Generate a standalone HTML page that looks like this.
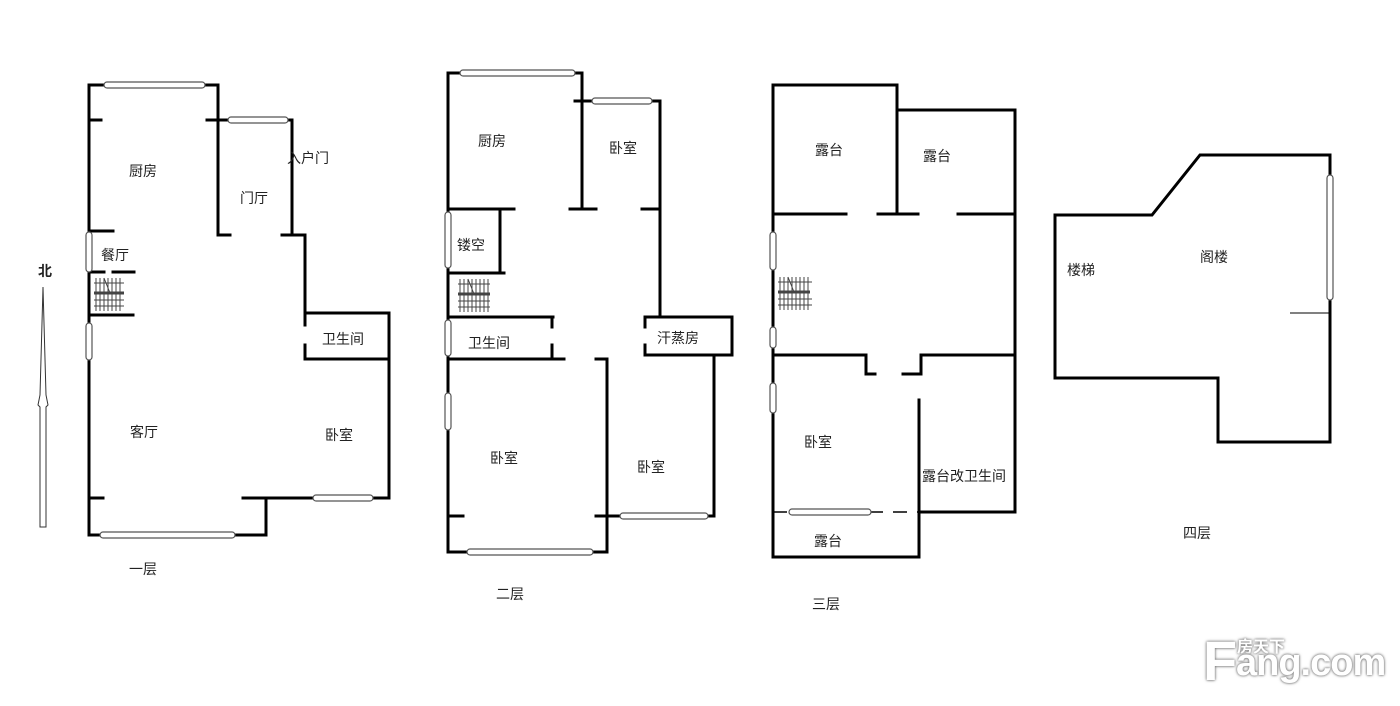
<!DOCTYPE html>
<html><head><meta charset="utf-8"><style>
body{margin:0;background:#fff;}
#w{position:relative;width:1400px;height:706px;overflow:hidden;background:#fff;}
svg text{font-family:"Liberation Sans","Noto Sans CJK SC",sans-serif;font-size:14px;fill:#222;}
.wm{position:absolute;font-family:"Liberation Sans","Noto Sans CJK SC",sans-serif;color:#fff;font-weight:bold;text-shadow:0 0 3px #777,0 0 2px #888;}
</style></head><body><div id="w">
<svg width="1400" height="706" viewBox="0 0 1400 706">
<g stroke="#000" stroke-width="3" fill="none" stroke-linecap="square">
<polyline points="218,235 218,85 89,85 89,535 266,535 266,498 243,498"/>
<line x1="218" y1="235" x2="230" y2="235"/>
<polyline points="207,120 292,120 292,235 282,235"/>
<polyline points="292,235 305,235 305,313 389,313 389,498 266,498"/>
<line x1="305" y1="359" x2="389" y2="359"/>
<line x1="305" y1="313" x2="305" y2="325"/><line x1="305" y1="345" x2="305" y2="359"/>
<line x1="89" y1="120" x2="101" y2="120"/><line x1="89" y1="231" x2="113" y2="231"/>
<line x1="89" y1="272" x2="104" y2="272"/><line x1="113" y1="272" x2="134" y2="272"/>
<line x1="89" y1="315" x2="133" y2="315"/><line x1="89" y1="498" x2="103" y2="498"/>
<polyline points="582,209 582,73 448,73 448,552 607,552 607,359 596,359"/>
<line x1="570" y1="209" x2="596" y2="209"/>
<polyline points="575,101 660,101 660,317"/>
<line x1="642" y1="209" x2="660" y2="209"/>
<polyline points="645,327 645,317 732,317 732,355 645,355 645,345"/>
<polyline points="714,355 714,516 596,516"/>
<line x1="448" y1="516" x2="463" y2="516"/>
<polyline points="448,209 514,209"/><polyline points="500,209 500,273 448,273 504,273"/>
<line x1="448" y1="317" x2="553" y2="317"/><line x1="448" y1="359" x2="564" y2="359"/>
<line x1="552" y1="317" x2="552" y2="327"/><line x1="552" y1="345" x2="552" y2="359"/>
<polyline points="897,214 897,85 773,85 773,557 919,557 919,400"/>
<polyline points="897,110 1015,110 1015,512 919,512"/>
<line x1="773" y1="214" x2="846" y2="214"/><line x1="878" y1="214" x2="918" y2="214"/><line x1="958" y1="214" x2="1015" y2="214"/>
<polyline points="773,355 866,355 866,374 875,374"/>
<polyline points="903,374 921,374 921,355 1015,355"/>
<polygon points="1055,215 1152,215 1200,155 1330,155 1330,442 1218,442 1218,378 1055,378"/>
</g>
<line x1="773" y1="512" x2="919" y2="512" stroke="#000" stroke-width="1.5" stroke-dasharray="14,10"/>
<line x1="1290" y1="313" x2="1330" y2="313" stroke="#000" stroke-width="1"/>
<g fill="#fff" stroke="#555" stroke-width="1.2">
<rect x="104" y="82" width="101" height="6" rx="3"/>
<rect x="228" y="117" width="60" height="6" rx="3"/>
<rect x="100" y="532" width="135" height="6" rx="3"/>
<rect x="313" y="495" width="60" height="6" rx="3"/>
<rect x="86" y="232" width="6" height="40" rx="3"/>
<rect x="86" y="323" width="6" height="37" rx="3"/>
<rect x="460" y="70" width="115" height="6" rx="3"/>
<rect x="592" y="98" width="60" height="6" rx="3"/>
<rect x="467" y="549" width="126" height="6" rx="3"/>
<rect x="620" y="513" width="88" height="6" rx="3"/>
<rect x="445" y="212" width="6" height="56" rx="3"/>
<rect x="445" y="320" width="6" height="36" rx="3"/>
<rect x="445" y="393" width="6" height="37" rx="3"/>
<rect x="770" y="232" width="6" height="38" rx="3"/>
<rect x="770" y="327" width="6" height="21" rx="3"/>
<rect x="770" y="383" width="6" height="30" rx="3"/>
<rect x="789" y="509" width="82" height="6" rx="3"/>
<rect x="1327" y="175" width="6" height="125" rx="3"/>
</g>
<g stroke="#444" stroke-width="1" fill="none" transform="translate(96,278)"><path d="M0,0V33M4,0V33M8,0V33M12,0V33M16,0V33M20,0V33M24,0V33M-2,5H28M-2,22H28M-2,28H28M8,0L14,15"/><path d="M-2,15H28" stroke-width="3"/></g>
<g stroke="#444" stroke-width="1" fill="none" transform="translate(460,279)"><path d="M0,0V33M4,0V33M8,0V33M12,0V33M16,0V33M20,0V33M24,0V33M28,0V33M-2,5H30M-2,22H30M-2,28H30M8,0L14,15"/><path d="M-2,15H30" stroke-width="3"/></g>
<g stroke="#444" stroke-width="1" fill="none" transform="translate(780,277)"><path d="M0,0V33M4,0V33M8,0V33M12,0V33M16,0V33M20,0V33M24,0V33M28,0V33M-2,5H32M-2,22H32M-2,28H32M8,0L14,15"/><path d="M-2,15H30" stroke-width="3"/></g>
<polygon points="43,287 46,395 48,405 46,407 46,527 40,527 40,407 38,405 40,395" fill="#fff" stroke="#333" stroke-width="1"/>
<g>
<text x="38" y="276" font-weight="bold">北</text>
<text x="129" y="176">厨房</text><text x="240" y="203">门厅</text><text x="287" y="163">入户门</text>
<text x="101" y="260">餐厅</text><text x="322" y="344">卫生间</text><text x="130" y="437">客厅</text><text x="325" y="440">卧室</text>
<text x="129" y="574">一层</text>
<text x="478" y="146">厨房</text><text x="609" y="153">卧室</text><text x="457" y="250">镂空</text>
<text x="468" y="348">卫生间</text><text x="657" y="343">汗蒸房</text><text x="490" y="463">卧室</text><text x="637" y="472">卧室</text>
<text x="496" y="599">二层</text>
<text x="815" y="155">露台</text><text x="923" y="161">露台</text><text x="804" y="447">卧室</text>
<text x="922" y="481">露台改卫生间</text><text x="814" y="546">露台</text><text x="812" y="609">三层</text>
<text x="1067" y="275">楼梯</text><text x="1200" y="262">阁楼</text><text x="1183" y="538">四层</text>
</g>
</svg>
<div class="wm" style="left:1203px;top:628px;font-size:56px;letter-spacing:-2px;">F</div>
<div class="wm" style="left:1237px;top:633px;font-size:16px;">房天下</div>
<div class="wm" style="left:1236px;top:642px;font-size:38px;letter-spacing:-1px;">ang.com</div>
</div></body></html>
